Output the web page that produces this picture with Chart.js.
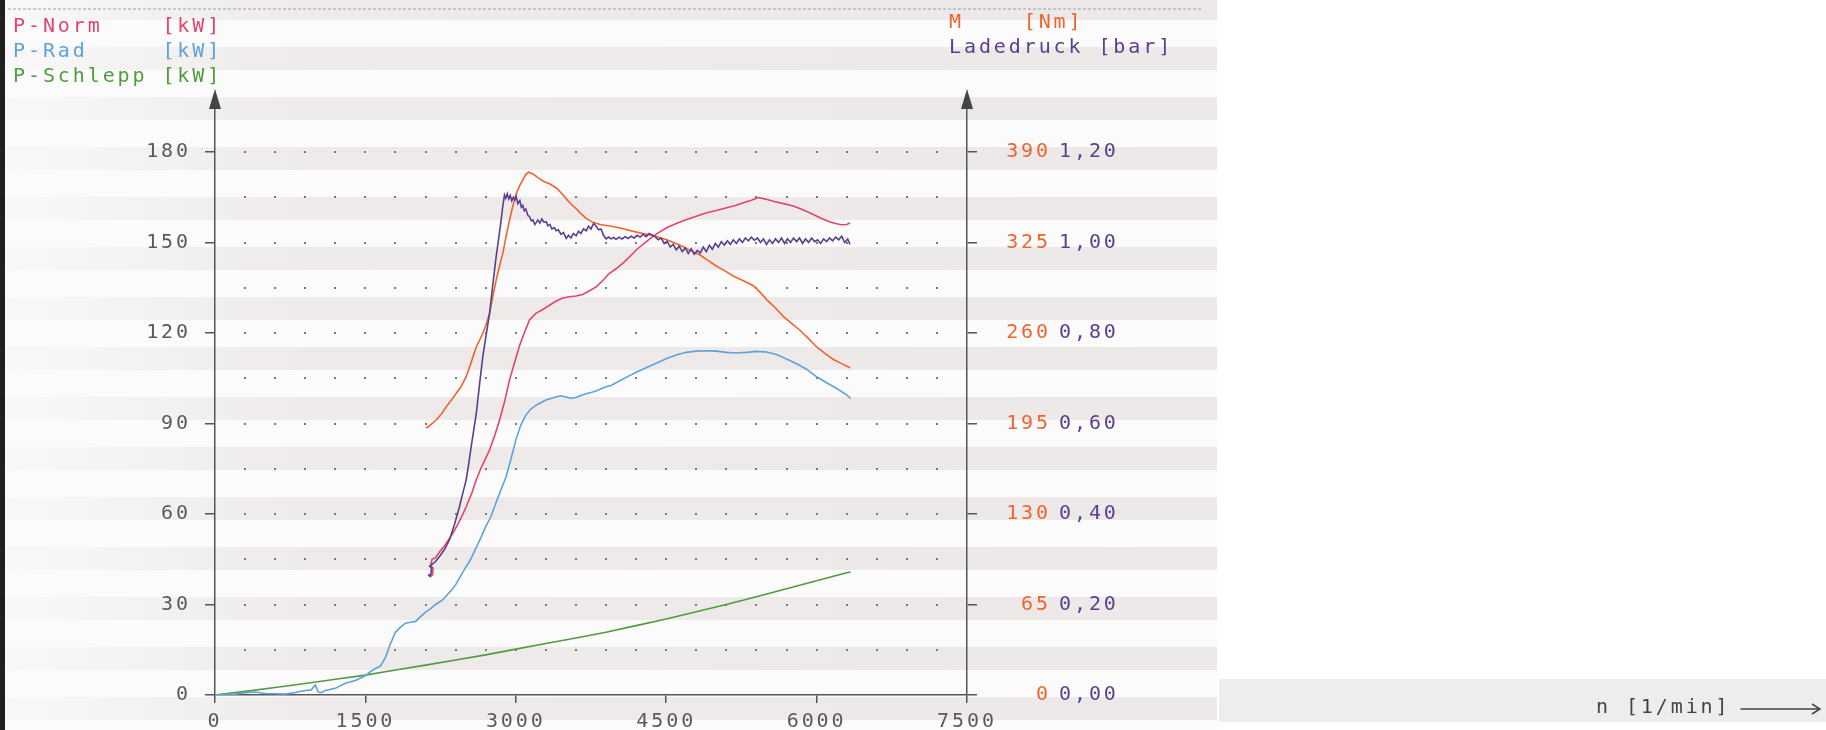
<!DOCTYPE html>
<html><head><meta charset="utf-8">
<script src="https://cdn.jsdelivr.net/npm/chart.js@4"></script>
<style>html,body{margin:0;padding:0;background:#fff;overflow:hidden}</style>
</head><body>
<canvas id="c" width="1826" height="730"></canvas>
<script>
// ---------------- DATA ----------------
const seriesNames = ['P-Norm', 'P-Rad', 'P-Schlepp', 'M', 'Ladedruck'];
const seriesUnits = ['[kW]', '[kW]', '[kW]', '[Nm]', '[bar]'];
const xAxisTitle = 'n [1/min]';

const rpmTicks = [0, 1500, 3000, 4500, 6000, 7500];
const rpmTickLabels = ['0', '1500', '3000', '4500', '6000', '7500'];
const powerTicks = [0, 30, 60, 90, 120, 150, 180];
const powerTickLabels = ['0', '30', '60', '90', '120', '150', '180'];
const torqueTicks = [0, 65, 130, 195, 260, 325, 390];
const torqueTickLabels = ['0', '65', '130', '195', '260', '325', '390'];
const boostTicks = [0, 0.2, 0.4, 0.6, 0.8, 1.0, 1.2];
const boostTickLabels = ['0,00', '0,20', '0,40', '0,60', '0,80', '1,00', '1,20'];

// P-Norm [kW]
const pNormRpm = [2130,2170,2175,2150,2165,2200,2240,2290,2340,2372,2420,2470,2505,2560,2605,2650,2700,2738,2790,2837,2890,2937,2990,3037,3090,3137,3200,3270,3340,3403,3470,3535,3600,3668,3735,3802,3870,3934,4000,4080,4150,4206,4290,4371,4440,4505,4600,4704,4800,4904,5000,5103,5190,5269,5350,5419,5490,5568,5670,5768,5870,5967,6050,6134,6200,6250,6300,6333];
const pNormKw  = [40.0,39.8,42.0,43.0,45.0,45.5,47.5,49.5,52.0,53.6,56.5,59.8,62.4,66.8,71.3,75.0,78.5,81.2,86.0,91.0,97.5,104.4,110.5,115.8,120.5,124.3,126.5,127.8,129.3,130.6,131.6,132.0,132.3,132.8,134.0,135.3,137.5,139.8,141.3,143.5,145.8,147.7,150.0,152.1,153.6,154.9,156.3,157.6,158.7,159.9,160.6,161.5,162.3,163.2,164.0,164.9,164.4,163.7,162.9,162.1,160.8,159.3,158.0,156.8,156.2,155.9,156.0,156.5];

// P-Rad [kW]
const pRadRpm = [0,100,200,300,400,500,600,700,800,900,960,1000,1030,1060,1100,1200,1300,1400,1500,1550,1600,1650,1700,1750,1800,1850,1900,1950,2000,2050,2100,2150,2200,2270,2350,2400,2450,2500,2550,2600,2650,2700,2750,2800,2850,2900,2950,3000,3050,3100,3150,3200,3250,3300,3350,3400,3450,3500,3550,3600,3650,3700,3750,3800,3850,3900,3950,4000,4100,4200,4300,4400,4500,4600,4700,4800,4900,5000,5100,5200,5300,5400,5500,5600,5700,5800,5900,6000,6100,6200,6300,6340];
const pRadKw  = [0,0.2,0.3,0.8,1.0,0.5,0.4,0.3,0.8,1.5,1.7,3.3,1.0,0.8,1.5,2.2,3.9,4.8,6.4,7.7,8.8,9.6,12.5,17.0,20.8,22.5,23.8,24.1,24.4,26.0,27.5,28.6,30.0,31.5,34.5,36.5,39.5,42.3,45.0,48.5,52.0,55.8,59.0,63.5,67.9,72.0,78.0,84.5,89.5,92.8,94.8,96.0,96.9,97.8,98.3,98.8,99.2,98.8,98.4,98.6,99.3,99.9,100.3,100.8,101.5,102.2,102.6,103.5,105.3,107.0,108.5,110.0,111.5,112.7,113.6,114.0,114.1,114.0,113.6,113.4,113.6,113.9,113.7,112.9,111.4,109.8,108.0,105.5,103.5,101.6,99.5,98.3];

// P-Schlepp [kW]
const pSchleppRpm = [0,300,600,900,1200,1500,1800,2100,2400,2700,3000,3300,3600,3900,4200,4500,4800,5100,5400,5700,6000,6300,6340];
const pSchleppKw  = [0,1.2,2.5,3.8,5.2,6.6,8.3,9.9,11.6,13.3,15.2,17.1,18.9,20.8,23.0,25.2,27.6,30.0,32.6,35.2,37.9,40.5,40.8];

// M [Nm]
const torqueRpm = [2106,2115,2150,2206,2260,2306,2360,2406,2450,2505,2560,2605,2640,2671,2700,2738,2770,2804,2837,2870,2905,2937,2970,3004,3040,3070,3100,3130,3175,3225,3275,3340,3408,3460,3508,3560,3607,3660,3707,3770,3840,3920,4006,4090,4172,4270,4371,4440,4505,4590,4671,4750,4837,4920,5003,5090,5169,5270,5369,5440,5502,5590,5668,5750,5834,5920,6001,6080,6167,6250,6333];
const torqueNm  = [192.7,192.0,194.0,197.5,202.0,207.0,212.0,216.7,221.0,228.6,240.0,250.0,255.0,259.8,265.0,274.0,286.0,298.0,308.0,317.0,330.0,341.0,351.0,360.0,366.0,370.0,374.0,375.5,374.0,371.5,369.0,367.0,364.0,360.0,356.0,352.0,349.0,345.0,342.0,339.5,338.0,337.0,336.0,334.5,333.0,331.5,330.0,328.5,327.0,324.5,322.0,319.0,316.0,312.0,308.0,304.5,301.0,297.5,294.0,289.0,284.0,278.0,272.0,267.0,262.0,256.0,250.0,245.5,241.0,238.0,235.0];

// Ladedruck [bar]
const boostRpm = [2123,2150,2160,2140,2170,2200,2239,2290,2339,2390,2438,2470,2505,2530,2555,2580,2605,2640,2671,2700,2738,2770,2804,2830,2854,2870,2887,2900,2915,2930,2945,2960,2975,2990,3004,3020,3040,3055,3070,3085,3100,3120,3137,3155,3170,3190,3203,3220,3240,3260,3280,3303,3320,3340,3360,3385,3403,3425,3450,3475,3503,3525,3550,3575,3602,3625,3650,3675,3702,3725,3750,3775,3802,3825,3850,3875,3901,3925,3950,3975,4000,4030,4060,4090,4120,4150,4180,4210,4240,4270,4300,4330,4360,4390,4420,4450,4480,4510,4540,4570,4600,4630,4660,4690,4720,4750,4780,4810,4840,4870,4900,4930,4960,4990,5020,5050,5080,5110,5140,5170,5200,5230,5260,5290,5320,5350,5380,5410,5440,5470,5500,5530,5560,5590,5620,5650,5680,5710,5740,5770,5800,5830,5860,5890,5920,5950,5980,6010,6040,6070,6100,6130,6160,6190,6220,6250,6280,6310,6333];
const boostBar = [0.265,0.262,0.280,0.285,0.290,0.295,0.306,0.322,0.343,0.378,0.416,0.445,0.475,0.510,0.549,0.585,0.620,0.690,0.748,0.790,0.843,0.905,0.969,1.010,1.050,1.080,1.105,1.098,1.108,1.096,1.104,1.092,1.100,1.094,1.102,1.086,1.093,1.078,1.082,1.070,1.074,1.060,1.057,1.048,1.050,1.040,1.044,1.050,1.043,1.052,1.045,1.046,1.037,1.040,1.030,1.033,1.026,1.028,1.018,1.022,1.009,1.016,1.010,1.020,1.015,1.025,1.020,1.030,1.026,1.036,1.030,1.042,1.036,1.028,1.030,1.016,1.008,1.012,1.008,1.011,1.007,1.012,1.008,1.013,1.009,1.014,1.010,1.016,1.012,1.018,1.013,1.020,1.016,1.013,1.006,1.010,0.998,1.003,0.990,0.996,0.984,0.992,0.980,0.988,0.976,0.986,0.974,0.982,0.977,0.990,0.980,0.994,0.985,0.998,0.990,1.002,0.994,1.004,0.996,1.006,0.998,1.008,1.000,1.010,1.004,1.012,1.005,1.010,1.000,1.008,0.996,1.006,0.998,1.008,1.000,1.010,0.998,1.008,1.000,1.010,1.002,1.010,0.998,1.008,1.000,1.010,1.002,1.006,0.998,1.008,1.002,1.010,1.004,1.012,1.006,1.014,1.000,1.008,0.996];

// ---------------- STYLE ----------------
const COLORS = ['#e3446c', '#5ea2da', '#4f9c3d', '#f0642f', '#5a3f8e'];
const AXIS = '#555555';
const FONT_FAMILY = "'DejaVu Sans Mono', monospace";
const FONT = { family: FONT_FAMILY, size: 20 };
const SPACING = '2.9px';
const KW_TOP = 194.6;
const torqueRatio = torqueTicks[torqueTicks.length - 1] / powerTicks[powerTicks.length - 1];
const boostRatio = boostTicks[boostTicks.length - 1] / powerTicks[powerTicks.length - 1];

const pts = (xs, ys) => xs.map((x, i) => ({ x: x, y: ys[i] }));
const setTicks = arr => s => { s.ticks = arr.map(v => ({ value: v })); };

const spacingPlugin = {
  id: 'spacing',
  beforeUpdate(c) { c.ctx.letterSpacing = SPACING; },
  beforeLayout(c) { c.ctx.letterSpacing = SPACING; },
  beforeDraw(c) { c.ctx.letterSpacing = SPACING; }
};

const paperPlugin = {
  id: 'paper',
  beforeDraw(c) {
    const ctx = c.ctx;
    ctx.save();
    ctx.fillStyle = '#ffffff';
    ctx.fillRect(0, 0, c.width, c.height);
    ctx.fillStyle = '#fcfbfb';
    ctx.fillRect(5, 0, 1212, 730);
    const g = ctx.createLinearGradient(5, 0, 1217, 0);
    g.addColorStop(0, 'rgba(225,218,218,0.1)');
    g.addColorStop(0.1, 'rgba(225,218,218,0.28)');
    g.addColorStop(0.25, 'rgba(225,218,218,0.5)');
    g.addColorStop(1, 'rgba(225,218,218,0.56)');
    ctx.fillStyle = g;
    for (let y = -3; y < 730; y += 50) ctx.fillRect(5, y, 1212, 23);
    ctx.fillStyle = 'rgba(228,224,224,0.6)';
    ctx.fillRect(1219, 679, 607, 43);
    ctx.fillStyle = '#1f1f1f';
    ctx.fillRect(0, 0, 5, 730);
    ctx.strokeStyle = '#8da2c4';
    ctx.lineWidth = 1.2;
    ctx.setLineDash([3, 2]);
    ctx.beginPath(); ctx.moveTo(8, 9); ctx.lineTo(1203, 9); ctx.stroke();
    ctx.restore();
  }
};

const dotsPlugin = {
  id: 'dots',
  beforeDatasetsDraw(c) {
    const ctx = c.ctx, x = c.scales.x, y = c.scales.y;
    ctx.save();
    ctx.fillStyle = '#7a7a7a';
    for (let r = 300; r <= 7200; r += 300) {
      for (let k = 15; k <= 180; k += 15) {
        ctx.fillRect(Math.round(x.getPixelForValue(r)) - 1, Math.round(y.getPixelForValue(k)) - 1, 2, 2);
      }
    }
    ctx.restore();
  }
};

const decoPlugin = {
  id: 'deco',
  afterDraw(c) {
    const ctx = c.ctx, a = c.chartArea;
    ctx.save();
    ctx.fillStyle = '#444';
    [a.left, a.right].forEach(px => {
      ctx.beginPath();
      ctx.moveTo(px, a.top - 19);
      ctx.lineTo(px - 6, a.top + 1);
      ctx.lineTo(px + 6, a.top + 1);
      ctx.closePath();
      ctx.fill();
    });
    ctx.font = '20px ' + FONT_FAMILY;
    ctx.letterSpacing = SPACING;
    ctx.textBaseline = 'alphabetic';
    ctx.textAlign = 'left';
    const rows = [
      { i: 0, x: 13, y: 32, pad: 10 },
      { i: 1, x: 13, y: 57, pad: 10 },
      { i: 2, x: 13, y: 82, pad: 10 },
      { i: 3, x: 949, y: 28, pad: 5 },
      { i: 4, x: 949, y: 53, pad: 10 }
    ];
    rows.forEach(r => {
      ctx.fillStyle = COLORS[r.i];
      ctx.fillText(seriesNames[r.i].padEnd(r.pad, ' ') + seriesUnits[r.i], r.x, r.y);
    });
    ctx.fillStyle = '#444';
    ctx.textBaseline = 'middle';
    ctx.fillText(xAxisTitle, 1596, 708);
    const w = ctx.measureText(xAxisTitle).width;
    ctx.strokeStyle = '#444';
    ctx.lineWidth = 1.5;
    ctx.beginPath();
    ctx.moveTo(1596 + w + 10, 709); ctx.lineTo(1818, 709);
    ctx.moveTo(1812, 704); ctx.lineTo(1820, 709); ctx.lineTo(1812, 714);
    ctx.stroke();
    ctx.restore();
  }
};

const lineDs = (i, data, axis) => ({
  label: seriesNames[i] + ' ' + seriesUnits[i],
  data: data,
  yAxisID: axis,
  borderColor: COLORS[i],
  backgroundColor: COLORS[i],
  borderWidth: 1.6,
  pointRadius: 0,
  tension: 0,
  fill: false
});

new Chart(document.getElementById('c'), {
  type: 'line',
  data: {
    datasets: [
      lineDs(4, pts(boostRpm, boostBar), 'y3'),
      lineDs(0, pts(pNormRpm, pNormKw), 'y'),
      lineDs(3, pts(torqueRpm, torqueNm), 'y2'),
      lineDs(1, pts(pRadRpm, pRadKw), 'y'),
      lineDs(2, pts(pSchleppRpm, pSchleppKw), 'y')
    ]
  },
  options: {
    responsive: false,
    devicePixelRatio: 1,
    animation: false,
    layout: { padding: { top: 108, left: 0, right: 0, bottom: 0 } },
    plugins: { legend: { display: false }, tooltip: { enabled: false }, title: { display: false } },
    scales: {
      x: {
        type: 'linear', position: 'bottom', min: 0, max: 7500,
        afterBuildTicks: setTicks(rpmTicks),
        afterFit: s => { s.height = 35; },
        ticks: { font: FONT, color: '#5a5a5a', padding: 7, maxRotation: 0, autoSkip: false,
                 callback: (v, i) => rpmTickLabels[i] },
        grid: { drawOnChartArea: false, tickLength: 8, color: AXIS, lineWidth: 1.5 },
        border: { color: AXIS, width: 1.5 }
      },
      y: {
        type: 'linear', position: 'left', min: 0, max: KW_TOP,
        afterBuildTicks: setTicks(powerTicks),
        afterFit: s => { s.width = 215; },
        ticks: { font: FONT, color: '#5a5a5a', padding: 14, callback: (v, i) => powerTickLabels[i] },
        grid: { drawOnChartArea: false, tickLength: 10, color: AXIS, lineWidth: 1.5 },
        border: { color: AXIS, width: 1.5 }
      },
      y2: {
        type: 'linear', position: 'right', weight: 0, min: 0, max: KW_TOP * torqueRatio,
        afterBuildTicks: setTicks(torqueTicks),
        afterFit: s => { s.width = 84; },
        ticks: { font: FONT, color: COLORS[3], padding: 19, crossAlign: 'far', callback: (v, i) => torqueTickLabels[i] },
        grid: { drawOnChartArea: false, tickLength: 10, color: AXIS, lineWidth: 1.5 },
        border: { color: AXIS, width: 1.5 }
      },
      y3: {
        type: 'linear', position: 'right', weight: 1, min: 0, max: KW_TOP * boostRatio,
        afterBuildTicks: setTicks(boostTicks),
        afterFit: s => { s.width = 775; },
        ticks: { font: FONT, color: COLORS[4], padding: 8, crossAlign: 'near', callback: (v, i) => boostTickLabels[i] },
        grid: { display: false, drawTicks: false, drawOnChartArea: false },
        border: { display: false }
      }
    }
  },
  plugins: [spacingPlugin, paperPlugin, dotsPlugin, decoPlugin]
});
</script>
</body></html>
